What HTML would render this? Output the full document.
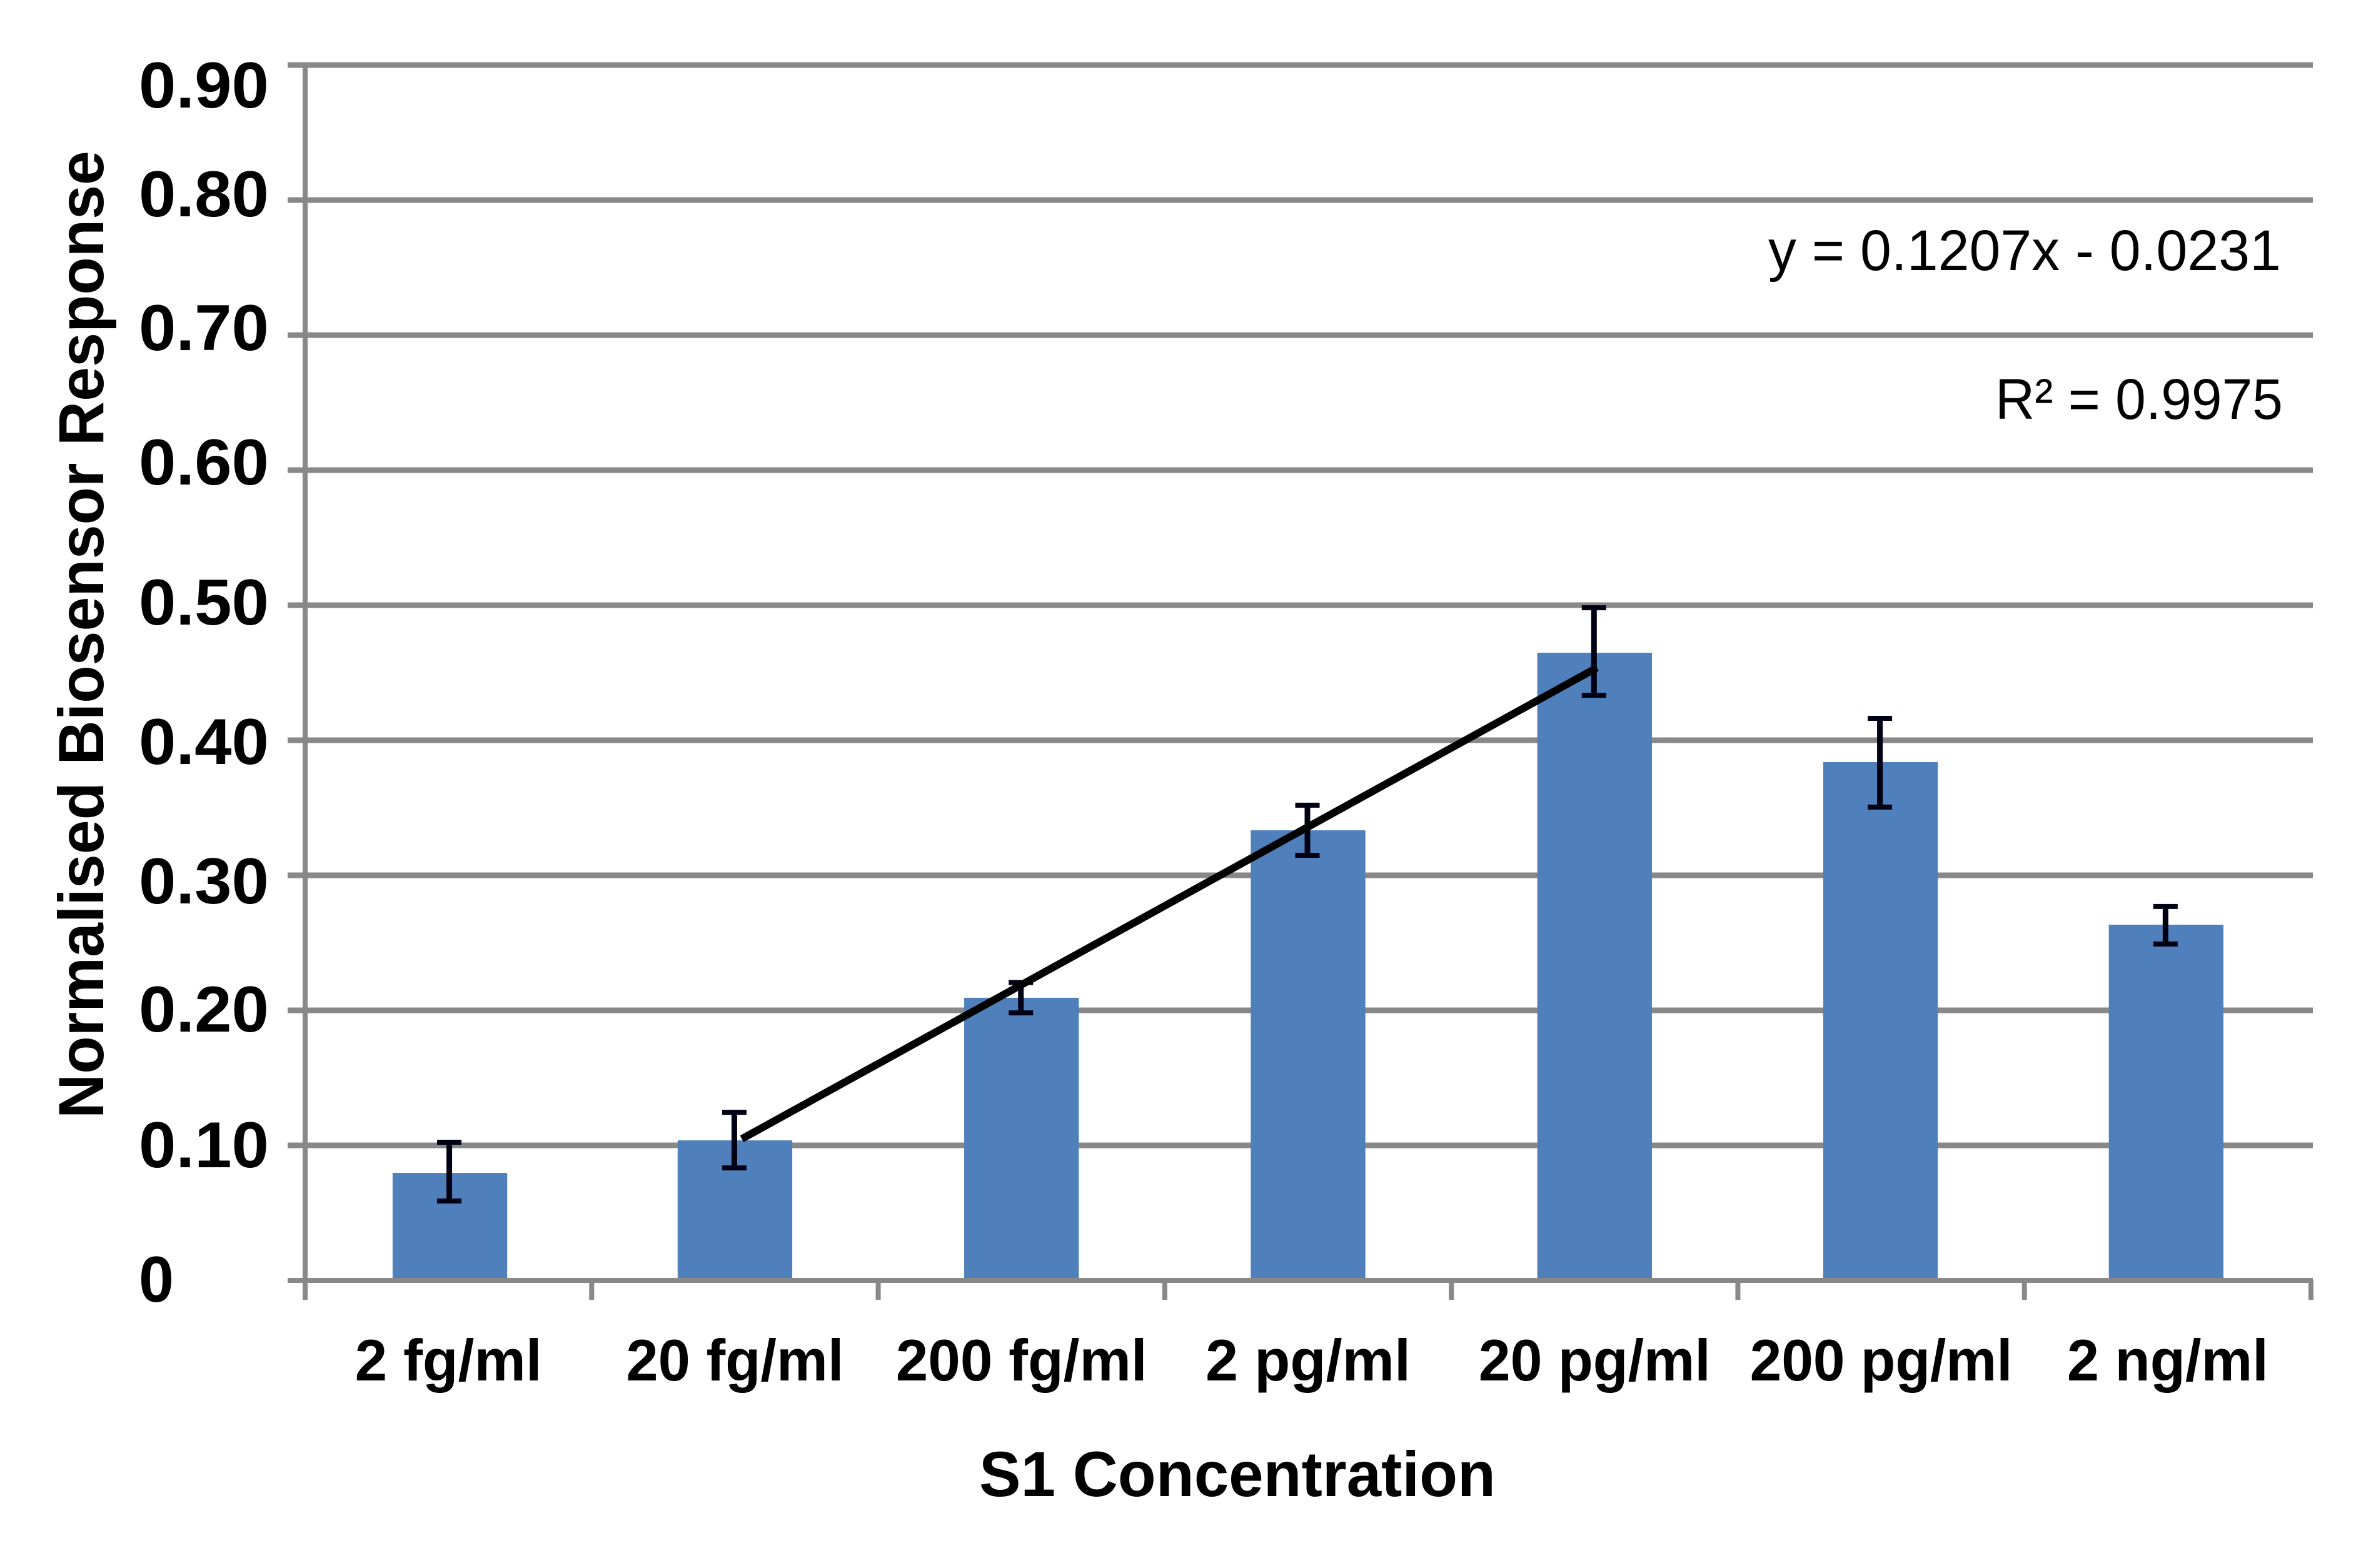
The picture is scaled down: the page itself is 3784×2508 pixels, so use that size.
<!DOCTYPE html>
<html lang="en">
<head>
<meta charset="utf-8">
<title>Normalised Biosensor Response vs S1 Concentration</title>
<style>
  html, body { margin: 0; padding: 0; background: #fff; }
  svg { display: block; }
  text { font-family: "Liberation Sans", sans-serif; fill: #000; }
</style>
</head>
<body>
<svg id="chart" xmlns="http://www.w3.org/2000/svg" width="3784" height="2508" viewBox="0 0 3784 2508">
  <rect x="0" y="0" width="3784" height="2508" fill="#ffffff"/>
  <g id="grid"></g>
  <g id="bars"></g>
  <g id="axes"></g>
  <g id="errors"></g>
  <g id="trend"></g>
  <g id="ylabels"></g>
  <g id="xlabels"></g>
  <text transform="translate(165 1789) rotate(-90)" font-size="102" font-weight="700" textLength="1548" lengthAdjust="spacingAndGlyphs">Normalised Biosensor Response</text>
  <text x="1566" y="2393" font-size="102" font-weight="700" textLength="826" lengthAdjust="spacingAndGlyphs">S1 Concentration</text>
  <text x="2828" y="432" font-size="92" textLength="820" lengthAdjust="spacingAndGlyphs">y = 0.1207x - 0.0231</text>
  <text x="3191" y="670" font-size="92" textLength="460" lengthAdjust="spacingAndGlyphs">R² = 0.9975</text>
</svg>
<script>
const categories = ["2 fg/ml", "20 fg/ml", "200 fg/ml", "2 pg/ml", "20 pg/ml", "200 pg/ml", "2 ng/ml"];
const responseValues = [0.0796, 0.1037, 0.2093, 0.3333, 0.4648, 0.3838, 0.2634];
const errorPlus = [0.0227, 0.0208, 0.0113, 0.0186, 0.0333, 0.0324, 0.0135];
const errorMinus = [0.0208, 0.0204, 0.0112, 0.0185, 0.0315, 0.0333, 0.0143];
const yTickValues = [0, 0.1, 0.2, 0.3, 0.4, 0.5, 0.6, 0.7, 0.8, 0.9];
const yTickLabels = ["0", "0.10", "0.20", "0.30", "0.40", "0.50", "0.60", "0.70", "0.80", "0.90"];
const trendValues = [0.1048, 0.4537];
const trendCategoryPositions = [1.524, 4.508];

/* layout only */
const yLabelNudge = [34, 35, 34, 45, 38, 31, 23, 24, 26, 68];
const xLabelWidths = [299, 348, 402, 328, 371, 420, 322];
const barNudge = [2.4, 0, 0, 0, 0, -1, -2.5];

const NS = "http://www.w3.org/2000/svg";
const plotLeft = 488, plotRight = 3696, plotBottom = 2048, plotTop = 104;
const yMax = 0.9;
const GRID = "#888888", BAR = "#4f80bb", ERR = "#000014";

function yScale(v) { return plotBottom - (v / yMax) * (plotBottom - plotTop); }
function bandWidth() { return (plotRight - plotLeft) / categories.length; }
function xPos(c) { return plotLeft + bandWidth() * c; }
function xCenter(i) { return xPos(i + 0.5); }

function make(tag, attrs, parent) {
  const n = document.createElementNS(NS, tag);
  for (const k in attrs) n.setAttribute(k, attrs[k]);
  parent.appendChild(n);
  return n;
}

const gridG = document.getElementById("grid");
const barsG = document.getElementById("bars");
const axesG = document.getElementById("axes");
const errG = document.getElementById("errors");
const trendG = document.getElementById("trend");
const yLabG = document.getElementById("ylabels");
const xLabG = document.getElementById("xlabels");

yTickValues.forEach(function (v, i) {
  if (v > 0) {
    const g = make("rect", { x: 460, y: yScale(v) - 4.5, width: plotRight + 3 - 460, height: 9, fill: GRID }, gridG);
    
    
  }
  const t = make("text", {
    x: 222,
    y: yScale(v) + yLabelNudge[i],
    "font-size": 104,
    "font-weight": 700,
    textLength: yTickLabels[i].length > 1 ? 208 : 56,
    lengthAdjust: "spacingAndGlyphs"
  }, yLabG);
  t.textContent = yTickLabels[i];
  
  
});

const barW = bandWidth() * 0.4;
categories.forEach(function (name, i) {
  const top = yScale(responseValues[i]);
  const bx = xCenter(i) + barNudge[i];
  const b = make("rect", { x: bx - barW / 2, y: top, width: barW, height: plotBottom - top, fill: BAR }, barsG);
  
  

  const hi = yScale(responseValues[i] + errorPlus[i]);
  const lo = yScale(responseValues[i] - errorMinus[i]);
  const cx = bx - 1;
  const stem = make("rect", { x: cx - 4.5, y: hi, width: 9, height: lo - hi, fill: ERR }, errG);
  
  
  const capTop = make("rect", { x: cx - 19.5, y: hi - 4, width: 39, height: 8, fill: ERR }, errG);
  
  
  const capBot = make("rect", { x: cx - 19.5, y: lo - 4, width: 39, height: 8, fill: ERR }, errG);
  
  

  const label = make("text", {
    x: xCenter(i),
    y: 2208,
    "font-size": 94,
    "font-weight": 700,
    "text-anchor": "middle",
    textLength: xLabelWidths[i],
    lengthAdjust: "spacingAndGlyphs"
  }, xLabG);
  label.textContent = name;
  
  
});

const yAxis = make("rect", { x: plotLeft - 4, y: plotTop, width: 8, height: 2079 - plotTop, fill: GRID }, axesG);


const xAxis = make("rect", { x: 460, y: plotBottom - 4, width: plotRight + 3 - 460, height: 8, fill: GRID }, axesG);


for (let c = 1; c <= categories.length; c++) {
  const tick = make("rect", { x: xPos(c) - 4, y: plotBottom, width: 8, height: 31, fill: GRID }, axesG);
  
  
}

const trendLine = make("line", {
  x1: xPos(trendCategoryPositions[0]),
  y1: yScale(trendValues[0]),
  x2: xPos(trendCategoryPositions[1]),
  y2: yScale(trendValues[1]),
  stroke: "#000000",
  "stroke-width": 12
}, trendG);


</script>
</body>
</html>
